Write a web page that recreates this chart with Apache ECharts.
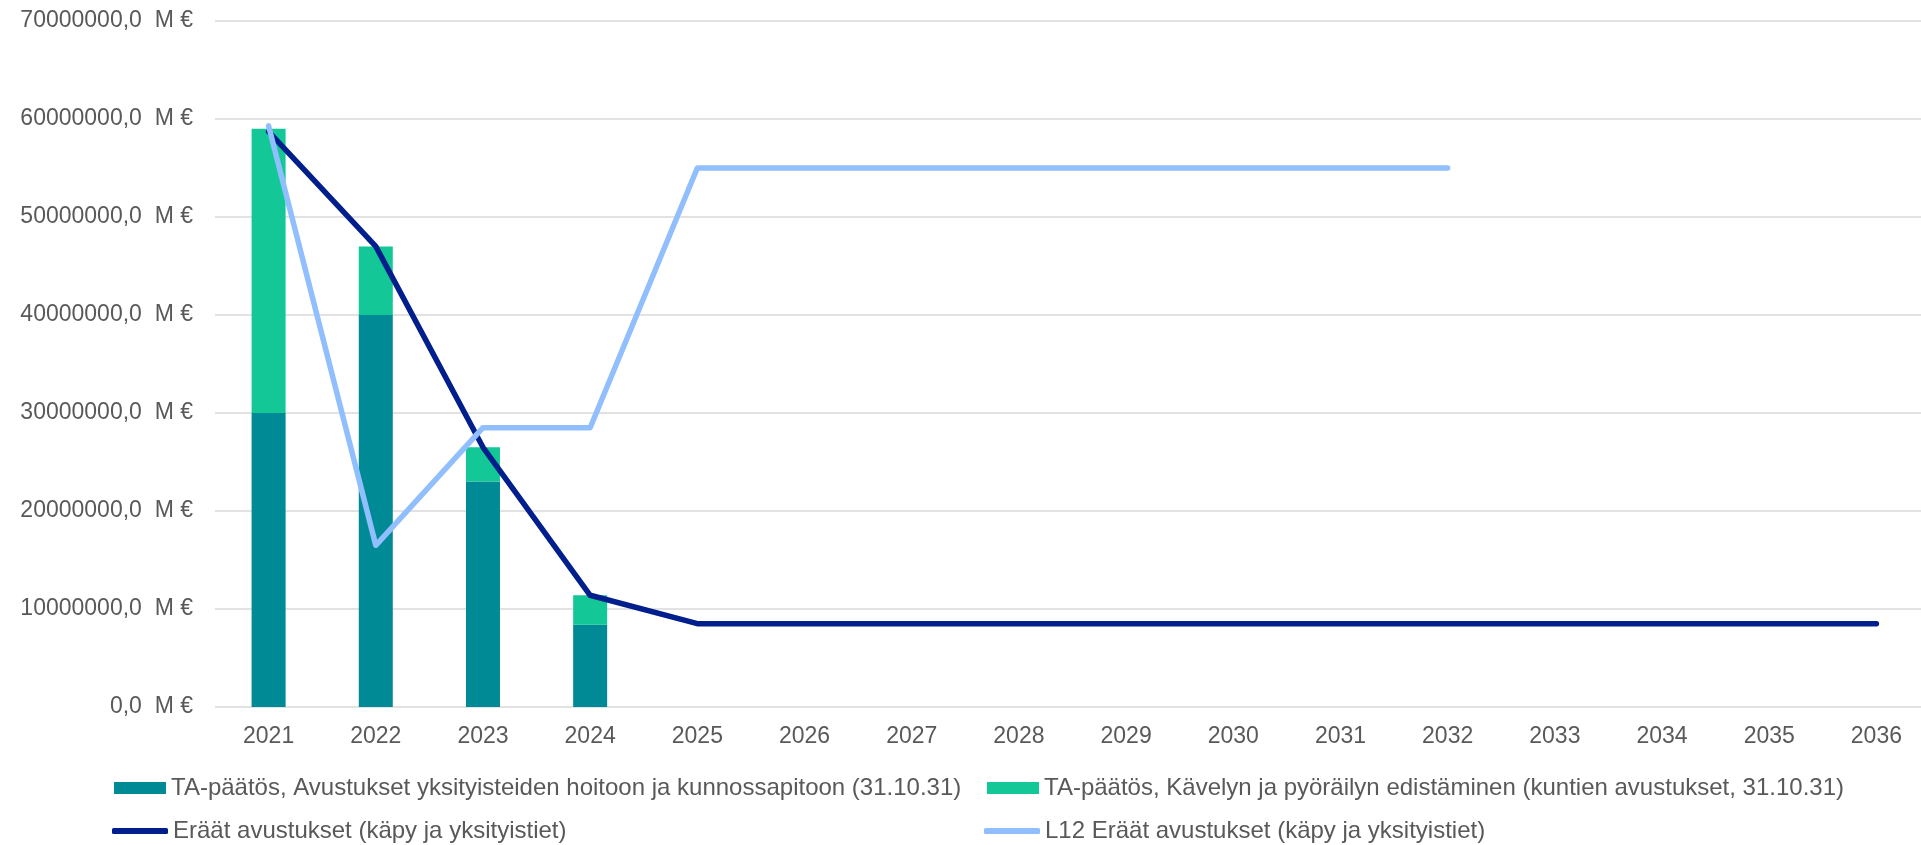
<!DOCTYPE html>
<html>
<head>
<meta charset="utf-8">
<title>Avustukset</title>
<script src="https://cdn.jsdelivr.net/npm/echarts@6/dist/echarts.min.js"></script>
<style>
  html, body { margin: 0; padding: 0; background: #ffffff; }
  #chart { width: 1921px; height: 845px; }
</style>
</head>
<body>
<div id="chart"></div>
<script>
  // Data (euros)
  const years = ['2021', '2022', '2023', '2024', '2025', '2026', '2027', '2028',
                 '2029', '2030', '2031', '2032', '2033', '2034', '2035', '2036'];
  const hoitoon = [30000000, 40000000, 23000000, 8400000];
  const kavely = [29000000, 7000000, 3500000, 3000000];
  const eraat = [58700000, 47000000, 26500000, 11400000, 8500000, 8500000, 8500000, 8500000,
                 8500000, 8500000, 8500000, 8500000, 8500000, 8500000, 8500000, 8500000];
  const l12Eraat = [59300000, 16500000, 28500000, 28500000, 55000000, 55000000, 55000000, 55000000,
                    55000000, 55000000, 55000000, 55000000];

  const names = [
    'TA-päätös, Avustukset yksityisteiden hoitoon ja kunnossapitoon (31.10.31)',
    'TA-päätös, Kävelyn ja pyöräilyn edistäminen (kuntien avustukset, 31.10.31)',
    'Eräät avustukset (käpy ja yksityistiet)',
    'L12 Eräät avustukset (käpy ja yksityistiet)'
  ];

  const colors = {
    teal: '#008a96',
    green: '#13c896',
    navy: '#001f8c',
    lightBlue: '#91bffd',
    text: '#595959',
    grid: '#d9d9d9'
  };
  const font = '"Liberation Sans", Arial, sans-serif';

  function formatTick(v) {
    return v.toFixed(1).replace('.', ',') + '  M €';
  }

  // one legend per entry so the two columns line up like the original
  function legendItem(name, left, top, isLine) {
    return {
      data: [name],
      left: left, top: top,
      padding: 0,
      icon: isLine ? 'roundRect' : 'rect',
      itemWidth: isLine ? 56 : 52,
      itemHeight: isLine ? 6 : 12,
      textStyle: { color: colors.text, fontSize: 24, fontFamily: font, lineHeight: 24 }
    };
  }

  const chart = echarts.init(document.getElementById('chart'));

  chart.setOption({
    animation: false,
    backgroundColor: '#ffffff',
    grid: {
      left: 215, right: -9, top: 21, bottom: 138,
      containLabel: false,
      outerBoundsMode: 'none'
    },
    legend: [
      legendItem(names[0], 114, 776, false),
      legendItem(names[1], 987, 776, false),
      legendItem(names[2], 112, 819, true),
      legendItem(names[3], 984, 819, true)
    ],
    xAxis: {
      type: 'category',
      data: years,
      axisLine: { show: false },
      axisTick: { show: false },
      axisLabel: { color: colors.text, fontSize: 23, fontFamily: font, margin: 18 }
    },
    yAxis: {
      type: 'value',
      min: 0, max: 70000000, interval: 10000000,
      axisLine: { show: false },
      axisTick: { show: false },
      splitLine: { lineStyle: { color: colors.grid, width: 1.5 } },
      axisLabel: {
        color: colors.text, fontSize: 23, fontFamily: font, margin: 22,
        formatter: formatTick
      }
    },
    series: [
      {
        name: names[0], type: 'bar', stack: 'ta', data: hoitoon,
        barWidth: 34,
        itemStyle: { color: colors.teal }
      },
      {
        name: names[1], type: 'bar', stack: 'ta', data: kavely,
        barWidth: 34,
        itemStyle: { color: colors.green }
      },
      {
        name: names[2], type: 'line', data: eraat,
        symbol: 'none',
        lineStyle: { color: colors.navy, width: 5.5, cap: 'round', join: 'round' },
        itemStyle: { color: colors.navy }
      },
      {
        name: names[3], type: 'line', data: l12Eraat,
        symbol: 'none',
        lineStyle: { color: colors.lightBlue, width: 5.5, cap: 'round', join: 'round' },
        itemStyle: { color: colors.lightBlue }
      }
    ]
  });
</script>
</body>
</html>
